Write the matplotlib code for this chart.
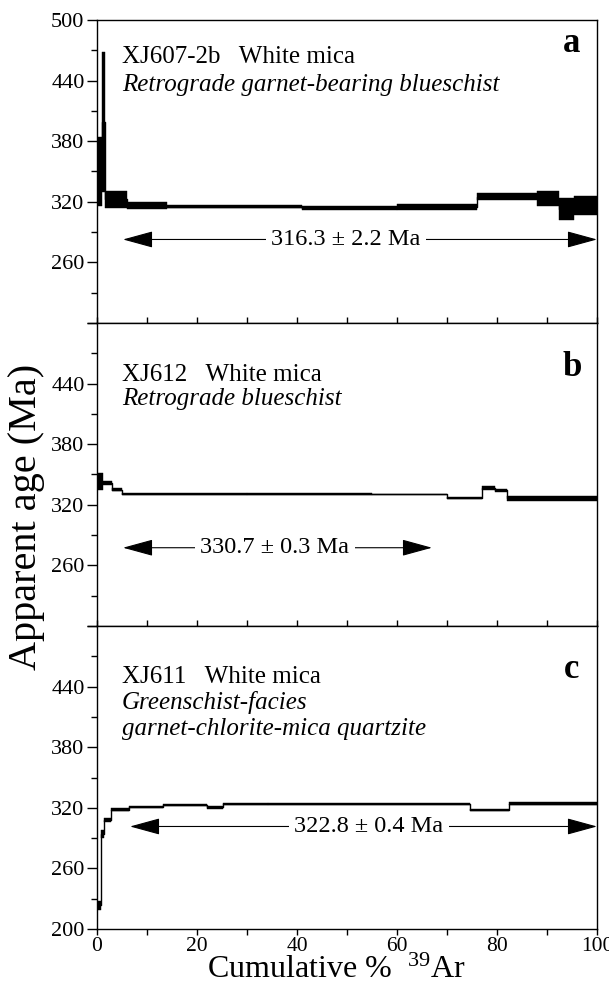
import numpy as np
import matplotlib
matplotlib.use('Agg')
import matplotlib.pyplot as plt

plt.rcParams['font.family'] = ['Liberation Serif', 'DejaVu Serif']
plt.rcParams['mathtext.fontset'] = 'custom'
plt.rcParams['mathtext.rm'] = 'Liberation Serif'
plt.rcParams['mathtext.default'] = 'regular'

# step spectra: cumulative %39Ar edges, apparent age, 1-sigma half width
edges_a = [0, 1.0, 1.5, 6, 14, 41, 60, 76, 88, 92.3, 95.4, 100]
ages_a = [350.0, 399.0, 322.3, 315.9, 315.2, 313.4, 314.4, 324.8, 322.8, 312.4, 316.8]
errs_a = [34.5, 69.0, 8.3, 3.5, 1.8, 2.0, 3.0, 3.5, 7.4, 10.9, 9.4]

edges_b = [0, 1.2, 3, 5, 30, 55, 70, 77, 79.5, 82, 100]
ages_b = [343.0, 341.5, 335.0, 331.0, 330.6, 330.2, 327.0, 337.0, 334.5, 326.5]
errs_b = [8.0, 2.0, 1.5, 1.0, 0.8, 0.8, 1.0, 2.0, 1.5, 2.5]

edges_c = [0, 0.8, 1.4, 2.8, 6.4, 13.2, 22, 25.2, 34.2, 74.6, 82.4, 100]
ages_c = [223.4, 294.4, 307.9, 318.3, 320.8, 323.1, 320.3, 323.8, 323.6, 318.3, 323.8]
errs_c = [4.1, 4.1, 2.2, 1.7, 0.8, 0.9, 1.3, 1.2, 1.2, 1.0, 1.5]

samples = ['XJ607-2b   White mica', 'XJ612   White mica', 'XJ611   White mica']
rocks = [['Retrograde garnet-bearing blueschist'],
         ['Retrograde blueschist'],
         ['Greenschist-facies', 'garnet-chlorite-mica quartzite']]
letters = ['a', 'b', 'c']
plateaus = ['316.3 \u00b1 2.2 Ma', '330.7 \u00b1 0.3 Ma', '322.8 \u00b1 0.4 Ma']
plateau_from = [5.2, 5.2, 6.6]
plateau_to = [100, 67, 100]
plateau_y = [282.7, 277.5, 301.5]
plateau_x = [49.8, 35.6, 54.4]

yticks = [200, 260, 320, 380, 440, 500]
ylabels_shown = [[260, 320, 380, 440, 500], [260, 320, 380, 440], [200, 260, 320, 380, 440]]

W, H = 609., 999.
fig = plt.figure(figsize=(6.09, 9.99), dpi=100)

bottoms = [323, 626, 929]
title_base = [[63, 91], [381, 405], [683, 709, 735]]
letter_y = [43, 367, 670]

data = [(edges_a, ages_a, errs_a), (edges_b, ages_b, errs_b), (edges_c, ages_c, errs_c)]

for i in range(3):
	ax = fig.add_axes([97 / W, 1 - bottoms[i] / H, 500 / W, 303 / H])
	edges, ages, errs = data[i]
	edges = np.array(edges, dtype=float)
	ages = np.array(ages)
	errs = np.array(errs)

	ax.bar(edges[:-1], 2 * errs, bottom=ages - errs, width=np.diff(edges),
		align='edge', color='k', edgecolor='k', linewidth=0.3)
	ax.step(edges, np.append(ages, ages[-1]), where='post', color='k', lw=1.0)

	ax.set_xlim(0, 100)
	ax.set_ylim(200, 500)
	for s in ax.spines.values():
		s.set_linewidth(1.0)

	ax.set_yticks(yticks)
	ax.set_yticklabels([str(v) if v in ylabels_shown[i] else '' for v in yticks])
	ax.set_yticks([230, 290, 350, 410, 470], minor=True)
	ax.tick_params(axis='y', which='major', direction='out', length=7, width=1,
		labelsize=16, pad=2)
	ax.tick_params(axis='y', which='minor', direction='out', length=4.5, width=1)

	ax.set_xticks(np.arange(0, 101, 10))
	if i < 2:
		ax.tick_params(axis='x', direction='in', length=4, width=1, labelbottom=False)
	else:
		ax.set_xticklabels([str(v) if v % 20 == 0 else '' for v in range(0, 101, 10)])
		ax.tick_params(axis='x', direction='out', length=4, width=1, labelsize=15.5, pad=2)

	# plateau arrow
	ax.annotate('', xy=(plateau_from[i], plateau_y[i]), xytext=(plateau_to[i], plateau_y[i]),
		arrowprops=dict(arrowstyle='<|-|>,head_length=0.95,head_width=0.26',
			mutation_scale=20, lw=0.8, color='k', shrinkA=0, shrinkB=0))
	ax.text(plateau_x[i], plateau_y[i], plateaus[i], ha='center', va='center',
		fontsize=17.5, bbox=dict(fc='white', ec='none', pad=4))

	fig.text(122 / W, 1 - title_base[i][0] / H, samples[i], fontsize=18, va='baseline')
	for k, r in enumerate(rocks[i]):
		fig.text(122 / W, 1 - title_base[i][k + 1] / H, r, fontsize=18,
			style='italic', va='baseline')
	fig.text(572 / W, 1 - letter_y[i] / H, letters[i], fontsize=25,
		fontweight='bold', ha='center', va='center')

fig.text(27 / W, 1 - 517 / H, 'Apparent age (Ma)', rotation=90, fontsize=29,
	ha='center', va='center')
fig.text(336 / W, 1 - 970 / H, 'Cumulative %  $^{39}$Ar', fontsize=23,
	ha='center', va='center')

plt.savefig('out.png', dpi=100)
